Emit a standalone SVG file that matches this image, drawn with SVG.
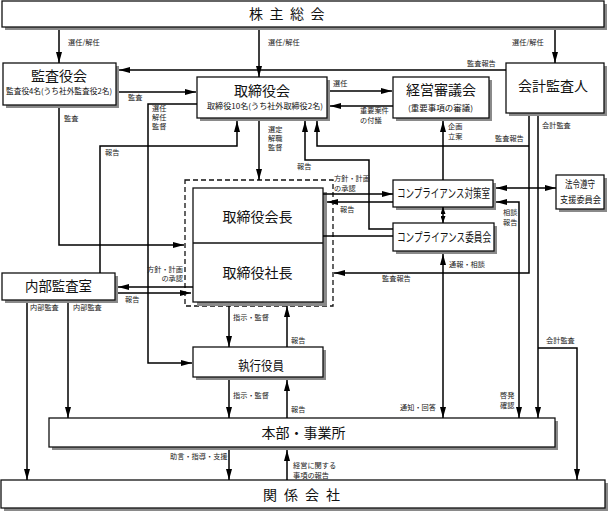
<svg xmlns="http://www.w3.org/2000/svg" width="609" height="514" viewBox="0 0 609 514">
<style>
.box{fill:#fff;stroke:#111;stroke-width:1.3}
.sh{fill:#8a8a8a}
.t{font-family:"Noto Sans CJK JP","Noto Sans",sans-serif;fill:#111}
.tt{font-size:14px;text-anchor:middle}
.sub{font-size:7.5px;text-anchor:middle}
.lbl{font-size:7.2px;fill:#222}
.c{fill:none;stroke:#000;stroke-width:1.5}
.ah{marker-end:url(#a)}
.ab{marker-start:url(#a);marker-end:url(#a)}
.dash{fill:none;stroke:#111;stroke-width:1.3;stroke-dasharray:5 3}
</style>
<defs>
<marker id="a" markerWidth="11" markerHeight="6" refX="11" refY="3" markerUnits="userSpaceOnUse" orient="auto-start-reverse"><path d="M0,0 L11,3 L0,6 z" fill="#000"/></marker>
<marker id="s" markerWidth="7" markerHeight="5" refX="7" refY="2.5" markerUnits="userSpaceOnUse" orient="auto-start-reverse"><path d="M0,0 L7,2.5 L0,5 z" fill="#000"/></marker>
</defs>

<g id="shareholders">
<rect class="sh" x="5" y="4" width="602" height="26"/>
<rect class="box" x="2" y="1" width="602" height="26"/>
<text class="t" font-size="14" x="249 269.5 290 310.5" y="19.3">株主総会</text>
</g>

<g id="auditors">
<rect class="sh" x="6" y="66" width="113" height="42"/>
<rect class="box" x="3" y="63" width="113" height="42"/>
<text class="t tt" x="59" y="81.3">監査役会</text>
<text class="t sub" x="59" y="94.3" textLength="106" lengthAdjust="spacingAndGlyphs">監査役4名(うち社外監査役2名)</text>
</g>

<g id="board">
<rect class="sh" x="200" y="80" width="130" height="41"/>
<rect class="box" x="197" y="77" width="130" height="41"/>
<text class="t tt" x="262" y="96">取締役会</text>
<text class="t sub" x="265" y="109" textLength="116" lengthAdjust="spacingAndGlyphs">取締役10名(うち社外取締役2名)</text>
</g>

<g id="mgmt-council">
<rect class="sh" x="396" y="80" width="96" height="41"/>
<rect class="box" x="393" y="77" width="96" height="41"/>
<text class="t tt" x="441" y="95">経営審議会</text>
<text class="t sub" x="440.5" y="111" textLength="65" lengthAdjust="spacingAndGlyphs">(重要事項の審議)</text>
</g>

<g id="accounting-auditor">
<rect class="sh" x="509" y="66" width="98" height="50"/>
<rect class="box" x="506" y="63" width="98" height="50"/>
<text class="t tt" x="553" y="91">会計監査人</text>
</g>

<g id="compliance-office">
<rect class="sh" x="396" y="183" width="100" height="27"/>
<rect class="box" x="393" y="180" width="100" height="27"/>
<text class="t" font-size="12" text-anchor="middle" x="443.5" y="198" textLength="93" lengthAdjust="spacingAndGlyphs">コンプライアンス対策室</text>
</g>

<g id="compliance-committee">
<rect class="sh" x="396" y="226" width="101" height="28"/>
<rect class="box" x="393" y="223" width="101" height="28"/>
<text class="t" font-size="12" text-anchor="middle" x="444" y="241.5" textLength="94" lengthAdjust="spacingAndGlyphs">コンプライアンス委員会</text>
</g>

<g id="legal-support">
<rect class="sh" x="559" y="178" width="48" height="34"/>
<rect class="box" x="556" y="175" width="48" height="34"/>
<text class="t" font-size="10" text-anchor="middle" x="580" y="187.5" textLength="30" lengthAdjust="spacingAndGlyphs">法令遵守</text>
<text class="t" font-size="9" text-anchor="middle" x="580.5" y="202.5" textLength="41" lengthAdjust="spacingAndGlyphs">支援委員会</text>
</g>

<g id="chair-president">
<rect class="dash" x="185" y="180" width="148" height="126"/>
<rect class="sh" x="197" y="192" width="130" height="114"/>
<rect class="box" x="193" y="188" width="130" height="114"/>
<line x1="193" y1="243" x2="323" y2="243" stroke="#111" stroke-width="1.3"/>
<text class="t tt" x="257.5" y="222.3">取締役会長</text>
<text class="t tt" x="257.5" y="278">取締役社長</text>
</g>

<g id="internal-audit">
<rect class="sh" x="5" y="276" width="113" height="27"/>
<rect class="box" x="2" y="273" width="113" height="27"/>
<text class="t tt" x="58.5" y="291" textLength="67" lengthAdjust="spacingAndGlyphs">内部監査室</text>
</g>

<g id="executives">
<rect class="sh" x="196" y="350" width="130" height="30"/>
<rect class="box" x="193" y="347" width="130" height="30"/>
<text class="t" font-size="13" text-anchor="middle" x="261" y="370" textLength="46" lengthAdjust="spacingAndGlyphs">執行役員</text>
</g>

<g id="divisions">
<rect class="sh" x="52" y="421" width="506" height="29"/>
<rect class="box" x="49" y="418" width="506" height="29"/>
<text class="t tt" x="303.5" y="438">本部・事業所</text>
</g>

<g id="affiliates">
<rect class="sh" x="4" y="483" width="604" height="28"/>
<rect class="box" x="1" y="480" width="604" height="28"/>
<text class="t" font-size="14" x="263 284 305 326" y="500">関係会社</text>
</g>

<g id="connectors">
<path class="c ah" d="M59,30 V63"/>
<path class="c ah" d="M259,30 V77"/>
<path class="c ah" d="M555,30 V63"/>
<path class="c ah" d="M506,70 H119"/>
<path class="c ah" d="M119,92 H196"/>
<path class="c ah" d="M330,91 H392"/>
<path class="c ah" d="M393,106 H330"/>
<path class="c ah" d="M197,104 H148 V363 H192"/>
<path class="c ah" d="M259,121 V180"/>
<path class="c ah" d="M100,273 V146 H237 V121"/>
<path class="c ah" d="M393,229 H369 V160 H305 V121"/>
<path class="c ah" d="M529,116 V273 H334"/>
<path class="c ah" d="M529,146 H317 V121"/>
<path class="c ah" d="M538,116 V418"/>
<path class="c ah" d="M538,348 H577 V480"/>
<path class="c ah" d="M443,180 V121"/>
<path class="c" d="M443,207 V223" marker-start="url(#s)" marker-end="url(#s)"/>
<path class="c ab" d="M496,188 H556"/>
<path class="c ah" d="M323,194 H393"/>
<path class="c ah" d="M393,202 H327"/>
<path class="c" d="M323,236 H393"/>
<path class="c ab" d="M519,418 V202 H496"/>
<path class="c ab" d="M443,254 V418"/>
<path class="c ah" d="M59,108 V245 H184"/>
<path class="c ah" d="M193,287 H118"/>
<path class="c ah" d="M118,293 H191"/>
<path class="c ah" d="M27,303 V480"/>
<path class="c ah" d="M68,303 V418"/>
<path class="c ah" d="M229,306 V347"/>
<path class="c ah" d="M287,347 V306"/>
<path class="c ah" d="M229,380 V418"/>
<path class="c ah" d="M287,418 V380"/>
<path class="c ah" d="M229,450 V480"/>
<path class="c ah" d="M287,480 V450"/>
</g>

<g id="labels" class="t lbl">
<text x="68" y="44.8">選任/解任</text>
<text x="268" y="44.8">選任/解任</text>
<text x="512" y="44.8">選任/解任</text>
<text x="467" y="65.8">監査報告</text>
<text x="333" y="85.8">選任</text>
<text x="360" y="112.8">重要案件</text>
<text x="360" y="123.3">の付議</text>
<text x="128" y="99.8">監査</text>
<text x="64" y="120.8">監査</text>
<text x="152" y="111.3">選任</text>
<text x="152" y="120.3">解任</text>
<text x="152" y="129.3">監督</text>
<text x="268" y="132.3">選定</text>
<text x="268" y="141.3">解職</text>
<text x="268" y="150.3">監督</text>
<text x="105" y="154.8">報告</text>
<text x="297" y="168.8">報告</text>
<text x="495" y="140.8">監査報告</text>
<text x="542" y="127.8">会計監査</text>
<text x="448" y="128.8">企画</text>
<text x="448" y="139.3">立案</text>
<text x="334" y="181.3">方針・計画</text>
<text x="334" y="190.8">の承認</text>
<text x="340" y="211.8">報告</text>
<text x="503" y="215.3">相談</text>
<text x="503" y="225.3">報告</text>
<text x="449" y="266.8">通報・相談</text>
<text x="183" y="271.8" text-anchor="end">方針・計画</text>
<text x="183" y="281.3" text-anchor="end">の承認</text>
<text x="125" y="301.8">報告</text>
<text x="382" y="280.8">監査報告</text>
<text x="30" y="309.8">内部監査</text>
<text x="73" y="309.8">内部監査</text>
<text x="233" y="319.8">指示・監督</text>
<text x="291" y="342.8">報告</text>
<text x="546" y="342.8">会計監査</text>
<text x="233" y="397.8">指示・監督</text>
<text x="500" y="398.3">啓発</text>
<text x="500" y="407.8">確認</text>
<text x="400" y="409.8">通知・回答</text>
<text x="291" y="411.8">報告</text>
<text x="170" y="458.8">助言・指導・支援</text>
<text x="293" y="468.3">経営に関する</text>
<text x="293" y="477.8">事項の報告</text>
</g>
</svg>
